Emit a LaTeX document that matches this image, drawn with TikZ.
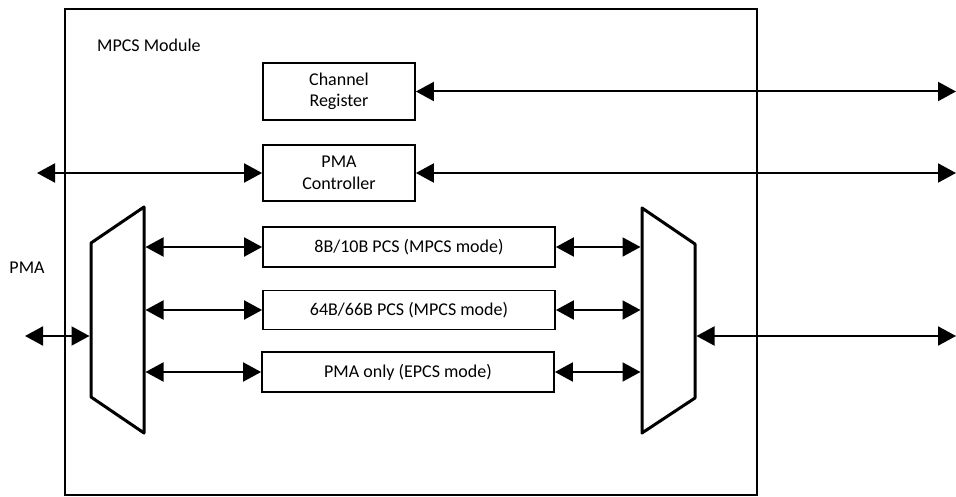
\documentclass[tikz,border=0pt]{standalone}
\usepackage{fontspec}
\setmainfont{Carlito}
\usetikzlibrary{arrows.meta}
\begin{document}
\begin{tikzpicture}[x=1pt,y=-1pt,
  txt/.style={font=\fontsize{18}{21.5}\selectfont, inner sep=0pt},
  blk/.style={txt, draw, line width=1.8pt, align=center},
  mux/.style={line width=3pt, line join=round},
  link/.style={line width=2pt,
    {Triangle[length=18pt,width=19pt]}-{Triangle[length=18pt,width=19pt]}}]
\useasboundingbox (0,0) rectangle (956,497);

% module frame and title
\draw[line width=1.6pt] (65,9) rectangle (757,495);
\node[txt, anchor=west] (title) at (97,45) {MPCS Module};
\node[txt] (pma) at (27,268) {PMA};

% blocks
\node[blk, minimum width=152pt, minimum height=57pt] (chreg) at (339,91.5) {Channel\\Register};
\node[blk, minimum width=152pt, minimum height=56pt] (pmactl) at (339,173) {PMA\\Controller};
\node[blk, minimum width=292pt, minimum height=40pt] (pcs8) at (409,247) {8B/10B PCS (MPCS mode)};
\node[blk, minimum width=292pt, minimum height=39pt] (pcs64) at (409,310) {64B/66B PCS (MPCS mode)};
\node[blk, minimum width=292pt, minimum height=40pt] (pmaonly) at (408,372) {PMA only (EPCS mode)};

% multiplexers
\draw[mux] (91,243) -- (144,207) -- (144,433) -- (91,397) -- cycle;
\draw[mux] (642,208) -- (695,244) -- (695,398) -- (642,433) -- cycle;

\coordinate (lmA) at (145.5,247);
\coordinate (lmB) at (145.5,310);
\coordinate (lmC) at (145.5,372);
\coordinate (lmIn) at (89.5,336);
\coordinate (rmA) at (640.5,247);
\coordinate (rmB) at (640.5,310);
\coordinate (rmC) at (640.5,372);
\coordinate (rmOut) at (696.5,336);

% external ends
\coordinate (extCR) at (956,91.5);
\coordinate (extPCr) at (956,173);
\coordinate (extPCl) at (37,173);
\coordinate (extPMA) at (25,336);
\coordinate (extOut) at (956,336);

% connectors
\draw[link] (chreg.east) -- (extCR);
\draw[link] (pmactl.east) -- (extPCr);
\draw[link] (extPCl) -- (pmactl.west);
\draw[link] (lmA) -- (pcs8.west);
\draw[link] (lmB) -- (pcs64.west);
\draw[link] (lmC) -- (pmaonly.west);
\draw[link] (pcs8.east) -- (rmA);
\draw[link] (pcs64.east) -- (rmB);
\draw[link] (pmaonly.east) -- (rmC);
\draw[link] (extPMA) -- (lmIn);
\draw[link] (rmOut) -- (extOut);
\end{tikzpicture}
\end{document}
